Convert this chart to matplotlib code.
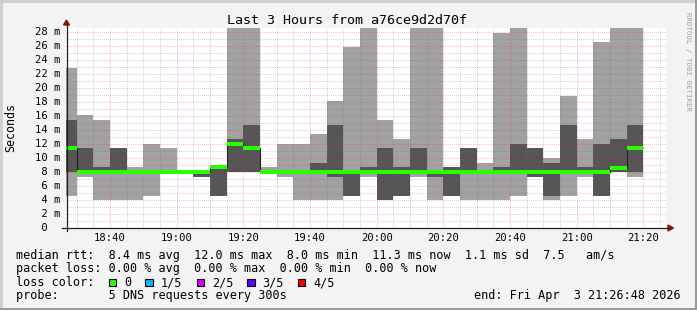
"""SmokePing style latency chart: last 3 hours of DNS probe results."""
import numpy as np
import pandas as pd
import matplotlib

matplotlib.use("Agg")
import matplotlib.pyplot as plt
import matplotlib.dates as mdates
from matplotlib.patches import Rectangle, Polygon
from matplotlib.lines import Line2D

# ── Canvas ────────────────────────────────────────────────────────
W, H = 697, 310
MONO = "DejaVu Sans Mono"

# ── Data (ms), one 5-minute bin per entry, 5 pings sorted ──────────
bin_start = pd.date_range("2026-04-03 18:25", "2026-04-03 21:15", freq="5min")
ping_min = [4.6, 7.3, 4.0, 4.0, 4.0, 4.6, 8.0, 8.0, 7.3, 4.6, 8.0, 8.0,
            8.0, 7.3, 4.0, 4.0, 4.0, 4.6, 7.3, 4.0, 4.6, 7.3, 4.0, 4.6,
            4.0, 4.0, 4.0, 4.6, 7.3, 4.0, 4.6, 7.3, 4.6, 8.0, 7.3]
ping_lo = [8.0, 8.0, 8.0, 8.0, 8.0, 8.0, 8.0, 8.0, 7.3, 4.6, 8.0, 8.0,
           8.0, 8.0, 8.0, 8.0, 7.3, 4.6, 8.0, 4.0, 4.6, 8.0, 7.3, 4.6,
           8.0, 8.0, 8.0, 8.0, 7.3, 4.6, 8.0, 8.0, 4.6, 8.0, 8.0]
ping_med = [11.4, 8.0, 8.0, 8.0, 8.0, 8.0, 8.0, 8.0, 8.0, 8.7, 12.0, 11.4,
            8.0, 8.0, 8.0, 8.0, 8.0, 8.0, 8.0, 8.0, 8.0, 8.0, 8.0, 8.0,
            8.0, 8.0, 8.0, 8.0, 8.0, 8.0, 8.0, 8.0, 8.0, 8.6, 11.4]
ping_hi = [15.4, 11.4, 8.7, 11.4, 8.0, 8.0, 8.0, 8.0, 8.0, 8.8, 12.7, 14.7,
           8.0, 8.0, 8.0, 9.3, 14.7, 8.0, 8.7, 11.4, 8.7, 11.4, 8.0, 8.7,
           11.4, 8.0, 8.7, 12.0, 11.4, 9.3, 14.7, 8.7, 12.0, 12.7, 14.7]
ping_max = [22.9, 16.1, 15.4, 11.4, 8.7, 12.0, 11.4, 8.0, 8.0, 8.8, 30.0, 30.0,
            8.7, 12.0, 12.0, 13.4, 18.1, 25.8, 30.0, 15.4, 12.7, 30.0, 30.0, 8.7,
            11.4, 9.3, 27.9, 30.0, 11.4, 10.0, 18.8, 12.7, 26.6, 30.0, 30.0]

view_start = pd.Timestamp("2026-04-03 18:26:48")
view_end = pd.Timestamp("2026-04-03 21:26:48")
y_top = 28.57

time_labels = ["18:40", "19:00", "19:20", "19:40", "20:00", "20:20", "20:40", "21:00", "21:20"]
y_labels = [0, 2, 4, 6, 8, 10, 12, 14, 16, 18, 20, 22, 24, 26, 28]

loss_names = ["0", "1/5", "2/5", "3/5", "4/5"]
loss_colors = ["#26ff00", "#00b8ff", "#dd00ff", "#6000ff", "#ff0000"]

legend_rtt = "median rtt:  8.4 ms avg  12.0 ms max  8.0 ms min  11.3 ms now  1.1 ms sd  7.5   am/s"
legend_loss = "packet loss: 0.00 % avg  0.00 % max  0.00 % min  0.00 % now"
legend_probe = "probe:       5 DNS requests every 300s"
legend_end = "end: Fri Apr  3 21:26:48 2026"

SMOKE_LIGHT = "#a2a2a2"
SMOKE_DARK = "#555555"
GRID = (0.45, 0.45, 0.45, 0.3)
MGRID = (0.95, 0.15, 0.15, 0.3)
LEG_SIZE = 8.5


def fxy(x, y):
    """Pixel position (from top-left) -> figure fraction."""
    return x / W, 1 - y / H


fig = plt.figure(figsize=(W / 100, H / 100), dpi=100, facecolor="#f3f3f3")

# 3D frame
for (xa, ya, xb, yb, c) in [(0, 1, W, 1, "#d0d0d0"), (1, 0, 1, H, "#d0d0d0"),
                            (0, H - 1.5, W, H - 1.5, "#9a9a9a"), (W - 1.5, 0, W - 1.5, H, "#9a9a9a")]:
    a, b = fxy(xa, ya)
    c2, d = fxy(xb, yb)
    fig.add_artist(Line2D([a, c2], [b, d], color=c, lw=2.2, transform=fig.transFigure))

ax = fig.add_axes([66 / W, (H - 228) / H, 600 / W, 200 / H])
ax.set_facecolor("white")
for s in ax.spines.values():
    s.set_visible(False)

x0 = mdates.date2num(bin_start)
width = 5 / 1440.0
edges = np.append(x0, x0[-1] + width)
p1, p2, p3, p4, p5 = (np.array(a) for a in (ping_min, ping_lo, ping_med, ping_hi, ping_max))

# smoke: outer band (min..max), inner band (2nd..4th ping)
ax.stairs(p5, edges, baseline=p1, fill=True, color=SMOKE_LIGHT, lw=0, zorder=1)
ax.stairs(p4, edges, baseline=p2, fill=True, color=SMOKE_DARK, lw=0, zorder=2)
# median: thin dark line plus loss-coloured band
ax.stairs(p3, edges, baseline=None, color="#202020", lw=0.8, zorder=4)
ax.stairs(p3 + 0.25, edges, baseline=p3 - 0.25, fill=True, color=loss_colors[0], lw=0, zorder=5)

xmin, xmax = mdates.date2num(view_start), mdates.date2num(view_end)
ax.set_xlim(xmin, xmax)
ax.set_ylim(0, y_top)

# grid over the smoke, under the median
minor_t = mdates.date2num(pd.date_range("2026-04-03 18:30", "2026-04-03 21:25", freq="5min"))
major_t = mdates.date2num(pd.to_datetime(["2026-04-03 " + t for t in time_labels]))
for t in minor_t:
    if t not in major_t:
        ax.axvline(t, color=GRID, lw=0.75, ls=(0, (1, 1)), zorder=3)
for v in range(1, 29):
    if v % 2:
        ax.axhline(v, color=GRID, lw=0.75, ls=(0, (1, 1)), zorder=3)
for v in y_labels[1:]:
    ax.axhline(v, color=MGRID, lw=0.75, ls=(0, (1, 1)), zorder=3)
for t in major_t:
    ax.axvline(t, color=MGRID, lw=0.75, ls=(0, (1, 1)), zorder=3)

ax.set_xticks([])
ax.set_yticks([])

# tick labels
for t, lab in zip(major_t, time_labels):
    ax.text(t, -9.7 / 200, lab, transform=ax.get_xaxis_transform(), ha="center",
            va="center", family=MONO, fontsize=7.6, color="#000000", clip_on=False)
for v in y_labels:
    lab = f"{v:2d} m" if v else " 0"
    ax.text((35 - 66) / 600, v, lab, transform=ax.get_yaxis_transform(), ha="left",
            va="center", family=MONO, fontsize=7.6, color="#000000", clip_on=False)

# axis lines with arrows
for (xa, ya, xb, yb) in [(62, 228, 670, 228), (66.5, 231, 66.5, 24)]:
    a, b = fxy(xa, ya)
    c2, d = fxy(xb, yb)
    fig.add_artist(Line2D([a, c2], [b, d], color="#202020", lw=0.9, transform=fig.transFigure))
fig.add_artist(Polygon([fxy(668, 225), fxy(673.5, 228), fxy(668, 231)], closed=True,
                       color="#8b1a1a", transform=fig.transFigure))
fig.add_artist(Polygon([fxy(63.5, 25), fxy(66.5, 20), fxy(69.5, 25)], closed=True,
                       color="#8b1a1a", transform=fig.transFigure))

# title and labels
fig.text(*fxy(347, 20), "Last 3 Hours from a76ce9d2d70f", ha="center", va="center",
         family=MONO, fontsize=9.6)
fig.text(*fxy(11, 127), "Seconds", rotation=90, ha="center", va="center",
         family=MONO, fontsize=8.4)
fig.text(*fxy(688, 62), "RRDTOOL / TOBI OETIKER", rotation=-90, ha="center", va="center",
         family=MONO, fontsize=5.4, color="#a0a0a0")

# legend rows
fig.text(*fxy(16, 255), legend_rtt, ha="left", va="center", family=MONO, fontsize=LEG_SIZE)
fig.text(*fxy(16, 268.5), legend_loss, ha="left", va="center", family=MONO, fontsize=LEG_SIZE)
fig.text(*fxy(16, 282.5), "loss color:", ha="left", va="center", family=MONO, fontsize=LEG_SIZE)
fig.text(*fxy(16, 295.7), legend_probe, ha="left", va="center", family=MONO, fontsize=LEG_SIZE)
fig.text(*fxy(681, 295.7), legend_end, ha="right", va="center", family=MONO, fontsize=LEG_SIZE)

box_x = [108.7, 145.3, 196.7, 247.3, 297.7]
for bx, name, col in zip(box_x, loss_names, loss_colors):
    fig.add_artist(Rectangle(fxy(bx, 286.3), 7.3 / W, 7.3 / H, transform=fig.transFigure,
                             facecolor=col, edgecolor="#000000", lw=0.8))
    fig.text(*fxy(bx + 15.3, 282.5), name, ha="left", va="center", family=MONO, fontsize=LEG_SIZE)

fig.savefig("out.png", dpi=100, facecolor=fig.get_facecolor())
